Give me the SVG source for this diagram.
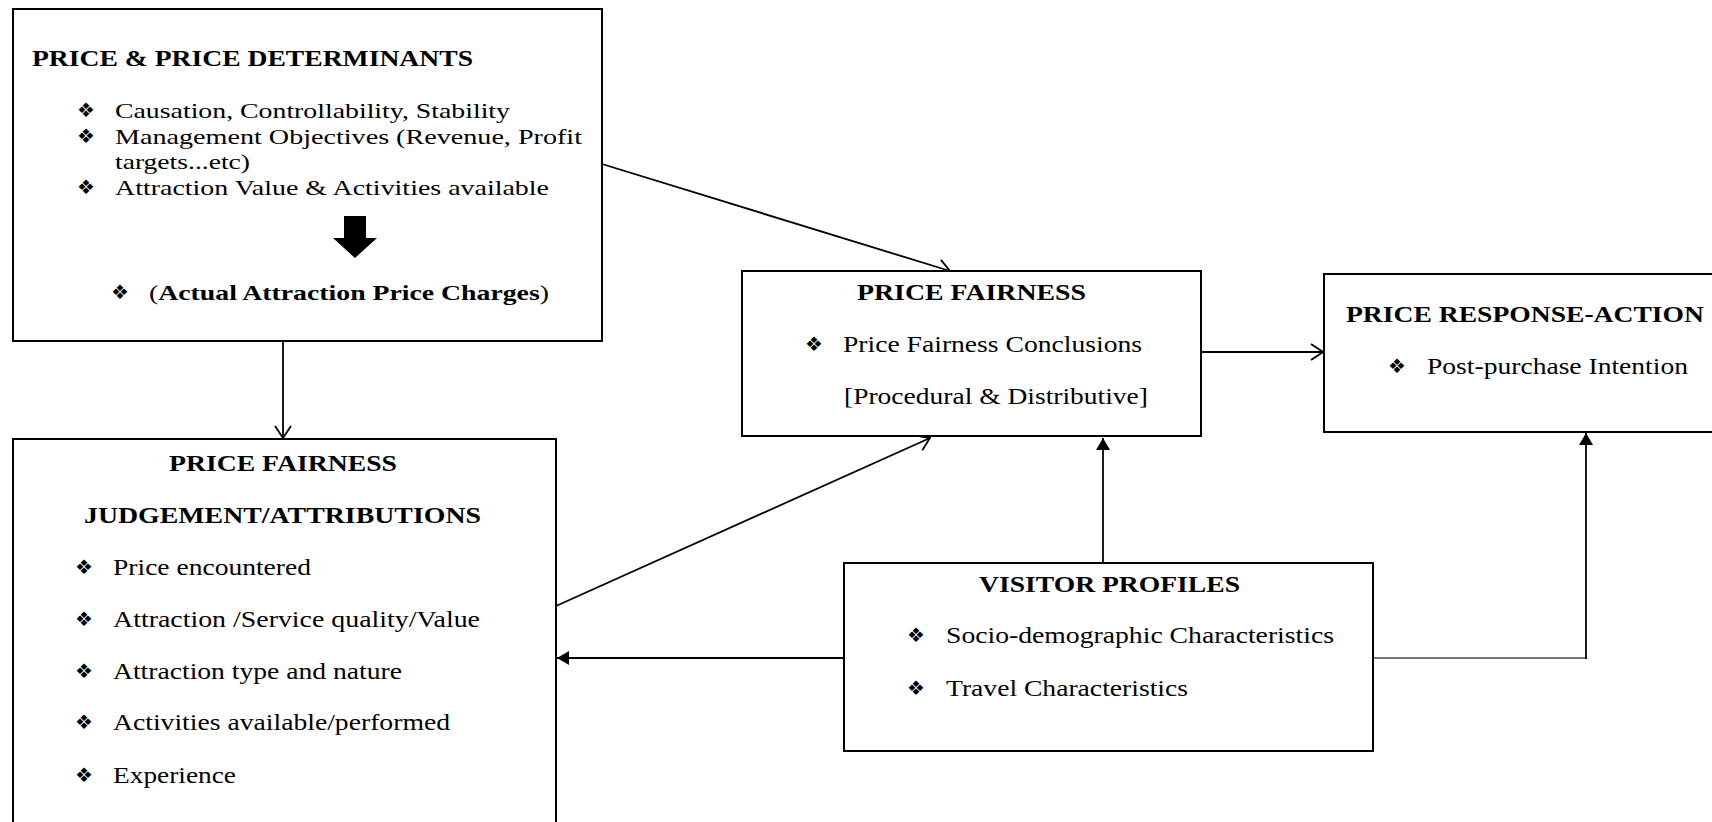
<svg xmlns="http://www.w3.org/2000/svg" width="1712" height="822" viewBox="0 0 1712 822">
<style>
.box{fill:#fff;stroke:#000;stroke-width:2}
.t{font-family:"Liberation Serif","Times New Roman",serif;font-size:23.5px;fill:#000}
.s{font-size:22px}
.b{font-family:"Liberation Serif","Times New Roman",serif;font-size:23px;font-weight:bold;fill:#000}
.d{font-family:"DejaVu Sans",sans-serif;font-size:20px;fill:#000}
.c{fill:none;stroke:#000;stroke-width:1.8}
</style>
<defs>
<marker id="open" viewBox="0 0 14 18" refX="13" refY="9" markerWidth="14" markerHeight="18" markerUnits="userSpaceOnUse" orient="auto">
<path d="M1,1 L13,9 L1,17" fill="none" stroke="#000" stroke-width="1.8"/>
</marker>
<marker id="fill" viewBox="0 0 12 14" refX="12" refY="7" markerWidth="12" markerHeight="14" markerUnits="userSpaceOnUse" orient="auto">
<path d="M0,0 L12,7 L0,14 Z" fill="#000"/>
</marker>
</defs>
<rect width="1712" height="822" fill="#fff"/>

<g id="connectors">
<line class="c" x1="283" y1="341" x2="283" y2="438" marker-end="url(#open)"/>
<line class="c" x1="602" y1="164" x2="950" y2="271" marker-end="url(#open)"/>
<line class="c" x1="556" y1="606" x2="930" y2="438" marker-end="url(#open)"/>
<line class="c" x1="1201" y1="352" x2="1323" y2="352" marker-end="url(#open)"/>
<line class="c" x1="1103" y1="563" x2="1103" y2="438" marker-end="url(#fill)"/>
<line class="c" x1="844" y1="658" x2="557" y2="658" marker-end="url(#fill)"/>
<line x1="1373" y1="658" x2="1586" y2="658" stroke="#777" stroke-width="1.8"/>
<line class="c" x1="1586" y1="659" x2="1586" y2="433" marker-end="url(#fill)"/>
</g>

<g id="price-determinants">
<rect class="box" x="13" y="9" width="589" height="332"/>
<text class="b" x="32" y="66" textLength="441" lengthAdjust="spacingAndGlyphs">PRICE &amp; PRICE DETERMINANTS</text>
<text class="d" x="77" y="117">❖</text>
<text class="t s" x="115" y="118" textLength="395" lengthAdjust="spacingAndGlyphs">Causation, Controllability, Stability</text>
<text class="d" x="77" y="143">❖</text>
<text class="t s" x="115" y="144" textLength="467" lengthAdjust="spacingAndGlyphs">Management Objectives (Revenue, Profit</text>
<text class="t s" x="115" y="169" textLength="135" lengthAdjust="spacingAndGlyphs">targets...etc)</text>
<text class="d" x="77" y="194">❖</text>
<text class="t s" x="115" y="195" textLength="434" lengthAdjust="spacingAndGlyphs">Attraction Value &amp; Activities available</text>
<path d="M344,216 H366 V238 H377 L355,258 L333,238 H344 Z" fill="#000"/>
<text class="d" x="111" y="299">❖</text>
<text class="t s" x="149" y="300" textLength="400" lengthAdjust="spacingAndGlyphs">(<tspan font-weight="bold">Actual Attraction Price Charges</tspan>)</text>
</g>

<g id="judgement">
<rect class="box" x="13" y="439" width="543" height="400"/>
<text class="b" x="169" y="471" textLength="228" lengthAdjust="spacingAndGlyphs">PRICE FAIRNESS</text>
<text class="b" x="84" y="523" textLength="397" lengthAdjust="spacingAndGlyphs">JUDGEMENT/ATTRIBUTIONS</text>
<text class="d" x="75" y="574">❖</text>
<text class="t" x="113" y="575" textLength="198" lengthAdjust="spacingAndGlyphs">Price encountered</text>
<text class="d" x="75" y="626">❖</text>
<text class="t" x="113" y="627" textLength="367" lengthAdjust="spacingAndGlyphs">Attraction /Service quality/Value</text>
<text class="d" x="75" y="678">❖</text>
<text class="t" x="113" y="679" textLength="289" lengthAdjust="spacingAndGlyphs">Attraction type and nature</text>
<text class="d" x="75" y="729">❖</text>
<text class="t" x="113" y="730" textLength="337" lengthAdjust="spacingAndGlyphs">Activities available/performed</text>
<text class="d" x="75" y="782">❖</text>
<text class="t" x="113" y="783" textLength="123" lengthAdjust="spacingAndGlyphs">Experience</text>
</g>

<g id="price-fairness">
<rect class="box" x="742" y="271" width="459" height="165"/>
<text class="b" x="857" y="300" textLength="229" lengthAdjust="spacingAndGlyphs">PRICE FAIRNESS</text>
<text class="d" x="805" y="351">❖</text>
<text class="t" x="843" y="352" textLength="299" lengthAdjust="spacingAndGlyphs">Price Fairness Conclusions</text>
<text class="t" x="844" y="404" textLength="304" lengthAdjust="spacingAndGlyphs">[Procedural &amp; Distributive]</text>
</g>

<g id="price-response">
<rect class="box" x="1324" y="274" width="400" height="158"/>
<text class="b" x="1346" y="322" textLength="358" lengthAdjust="spacingAndGlyphs">PRICE RESPONSE-ACTION</text>
<text class="d" x="1388" y="373">❖</text>
<text class="t" x="1427" y="374" textLength="261" lengthAdjust="spacingAndGlyphs">Post-purchase Intention</text>
</g>

<g id="visitor-profiles">
<rect class="box" x="844" y="563" width="529" height="188"/>
<text class="b" x="979" y="592" textLength="261" lengthAdjust="spacingAndGlyphs">VISITOR PROFILES</text>
<text class="d" x="907" y="642">❖</text>
<text class="t" x="946" y="643" textLength="388" lengthAdjust="spacingAndGlyphs">Socio-demographic Characteristics</text>
<text class="d" x="907" y="695">❖</text>
<text class="t" x="946" y="696" textLength="242" lengthAdjust="spacingAndGlyphs">Travel Characteristics</text>
</g>
</svg>
